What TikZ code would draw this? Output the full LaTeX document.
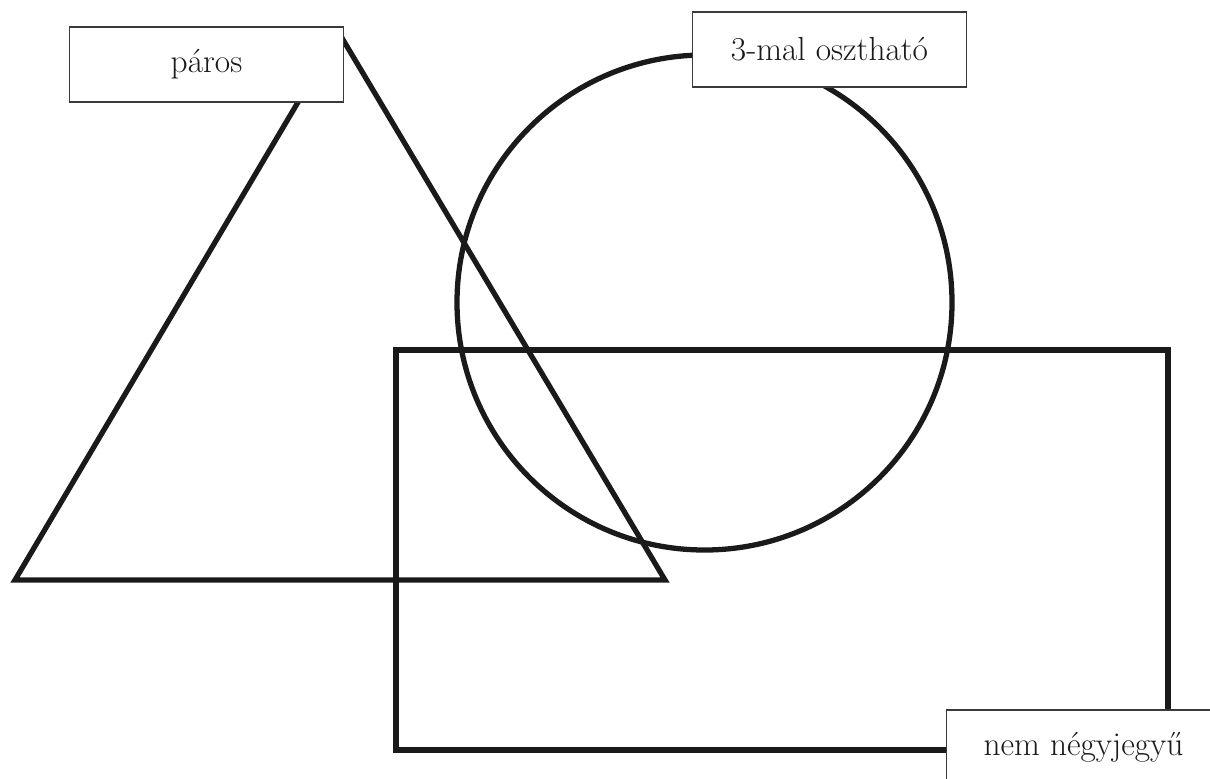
\documentclass[tikz,border=0pt]{standalone}
\usepackage{xcolor}
\usepackage{tikz}
\definecolor{SetInk}{HTML}{1A1A1A}
\definecolor{TagInk}{HTML}{3A3A3A}

\begin{document}
\begin{tikzpicture}[
  x=0.02cm,y=-0.02cm,
  setline/.style={draw=SetInk,line width=3pt},
  tag/.style={draw=TagInk,line width=0.6pt,fill=white,minimum width=5.48cm,minimum height=1.5cm,inner sep=0pt,text=SetInk,font=\fontsize{19}{23}\selectfont},
]
  \useasboundingbox (0,0) rectangle (1210,778);

  % the three sets
  \draw[setline] (339,33) -- (15,580) -- (665,580) -- cycle;
  \draw[setline] (704.5,302.5) circle[radius=247.5];
  \draw[setline] (396,350) rectangle (1168,750);

  % their names
  \node[tag] (even) at (206.5,64.5) {páros};
  \node[tag] (three) at (829.5,49.5) {3-mal osztható};
  \node[tag] (digits) at (1083.5,747.5) {nem négyjegyű};
\end{tikzpicture}
\end{document}
